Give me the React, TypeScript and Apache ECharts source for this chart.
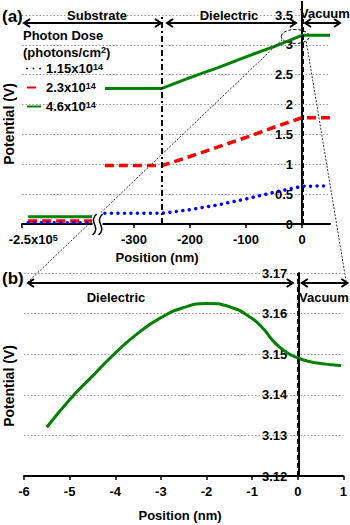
import React, { useEffect, useRef } from 'react';
import * as echarts from 'echarts';

// ---- Data (a): potential vs position (nm) ----
const topPositions = [-489, -375, -362, -352, -250, -200, -150, -100, -50, 0, 50];
const dose115 = [0.02, 0.02, null, 0.18, 0.18, 0.24, 0.32, 0.42, 0.53, 0.63, 0.64];
const dose23 = [0.05, 0.05, null, 0.98, 0.98, 1.13, 1.29, 1.45, 1.62, 1.78, 1.78];
const dose46 = [0.12, 0.12, null, 2.27, 2.27, 2.45, 2.62, 2.8, 2.97, 3.16, 3.16];
const doseNames = ['1.15x10^14', '2.3x10^14', '4.6x10^14'];
const topXRange = [-500, 50];
const topXTicks = [-500, -300, -200, -100, 0];
const topXLabels = [-480, -300, -200, -100, 0];
const farSubstrateLabel = '-2.5x10^5';
const regionBounds = [-250, 0];
const breakPosition = -365;

// ---- Data (b): zoom near the interface ----
const zoomXRange = [-6, 1];
const zoomPositions = [-5.5, -5, -4.5, -4, -3.5, -3, -2.5, -2, -1.5, -1, -0.75, -0.5, -0.25, 0, 0.25, 0.5, 0.75, 0.95];
const zoomPotential = [3.132, 3.1388, 3.1446, 3.1503, 3.1552, 3.159, 3.1615, 3.1625, 3.1617, 3.1588, 3.1562, 3.1528, 3.1505, 3.1491, 3.1482, 3.1477, 3.1474, 3.1472];

const FONT = 'Liberation Sans, Arial, sans-serif';
const sup = (s: string) => s.replace(/\^(\d+)/, '{s|$1}');
const richSup = { s: { fontSize: 9, fontWeight: 'bold', fontFamily: FONT, verticalAlign: 'top', lineHeight: 9, color: '#000' } };

const toData = (vals: (number | null)[]) => topPositions.map((x, i) => [x, vals[i] === null ? '-' : vals[i]]);

const GRID_A = { left: 22, top: 15, width: 308, height: 209 };
const GRID_B = { left: 24, top: 273, width: 320, height: 203 };
const zeroOffset = (range: number[], width: number) => -((0 - range[0]) / (range[1] - range[0])) * width;

export default function App() {
  const ref = useRef<HTMLDivElement>(null);
  useEffect(() => {
    if (!ref.current) return;
    const chart = echarts.init(ref.current, null, { renderer: 'svg' });
    const gridLine = { show: true, lineStyle: { color: '#999', type: [1.5, 2] as any, width: 1 } };
    const labelStyle = { color: '#000', fontSize: 13, fontWeight: 'bold' as const, fontFamily: FONT };
    const option: any = {
      animation: false,
      backgroundColor: '#fff',
      grid: [GRID_A, GRID_B],
      xAxis: [
        {
          type: 'value', gridIndex: 0, min: topXRange[0], max: topXRange[1],
          axisLine: { onZero: false, lineStyle: { color: '#000', width: 2 } },
          axisTick: { show: true, length: 4, customValues: topXTicks, lineStyle: { color: '#000', width: 1.5 } },
          axisLabel: {
            ...labelStyle, margin: 9, customValues: topXLabels,
            formatter: (v: number) => (v === topXLabels[0] ? sup(farSubstrateLabel) : String(v)),
            rich: richSup,
          },
          splitLine: { show: false },
        },
        {
          type: 'value', gridIndex: 1, min: zoomXRange[0], max: zoomXRange[1], interval: 1,
          axisLine: { onZero: false, lineStyle: { color: '#000', width: 2 } },
          axisTick: { show: true, length: 4, lineStyle: { color: '#000', width: 1.5 } },
          axisLabel: { ...labelStyle, margin: 9 },
          splitLine: { show: false },
        },
      ],
      yAxis: [
        {
          type: 'value', gridIndex: 0, min: 0, max: 3.5, interval: 0.5, position: 'left',
          offset: zeroOffset(topXRange, GRID_A.width),
          axisLine: { onZero: false, lineStyle: { color: '#000', width: 2 } },
          axisTick: { show: false },
          axisLabel: { ...labelStyle, margin: 9 },
          splitLine: gridLine,
        },
        {
          type: 'value', gridIndex: 1, min: 3.12, max: 3.17, interval: 0.01, position: 'left',
          offset: zeroOffset(zoomXRange, GRID_B.width),
          axisLine: { onZero: false, lineStyle: { color: '#000', width: 2 } },
          axisTick: { show: false },
          axisLabel: { ...labelStyle, margin: 11, formatter: (v: number) => v.toFixed(2) },
          splitLine: gridLine,
        },
      ],
      legend: {
        data: doseNames, orient: 'vertical', left: 26, top: 62, padding: 0,
        itemWidth: 14, itemHeight: 10, itemGap: 6,
        itemStyle: { opacity: 0 },
        formatter: (n: string) => sup(n),
        textStyle: { ...labelStyle, rich: richSup },
      },
      series: [
        {
          name: doseNames[0], type: 'line', xAxisIndex: 0, yAxisIndex: 0, symbol: 'none', z: 4,
          data: toData(dose115),
          lineStyle: { color: '#0000ff', width: 3.5, type: [0.01, 6.5], cap: 'round' },
          itemStyle: { color: '#0000ff' },
          markLine: {
            silent: true, symbol: 'none', label: { show: false },
            data: [
              { xAxis: regionBounds[0], lineStyle: { color: '#000', width: 2, type: [6, 3, 2, 3] } },
              { xAxis: regionBounds[1], lineStyle: { color: '#000', width: 3, type: [5, 3] } },
            ],
          },
        },
        {
          name: doseNames[1], type: 'line', xAxisIndex: 0, yAxisIndex: 0, symbol: 'none', z: 3,
          data: toData(dose23),
          lineStyle: { color: '#ff0000', width: 3.5, type: [9, 5] },
          itemStyle: { color: '#ff0000' },
        },
        {
          name: doseNames[2], type: 'line', xAxisIndex: 0, yAxisIndex: 0, symbol: 'none', z: 2,
          data: toData(dose46),
          lineStyle: { color: '#008000', width: 3 },
          itemStyle: { color: '#008000' },
        },
        {
          name: 'zoom', type: 'line', xAxisIndex: 1, yAxisIndex: 1, symbol: 'none', smooth: true,
          data: zoomPositions.map((x, i) => [x, zoomPotential[i]]),
          lineStyle: { color: '#008000', width: 3 },
          itemStyle: { color: '#008000' },
          markLine: {
            silent: true, symbol: 'none', label: { show: false },
            data: [{ xAxis: 0, lineStyle: { color: '#000', width: 3, type: [5, 3] } }],
          },
        },
      ],
    };
    chart.setOption(option);

    const pA = (x: number, y: number) => chart.convertToPixel({ gridIndex: 0 }, [x, y]) as number[];
    const pB = (x: number, y: number) => chart.convertToPixel({ gridIndex: 1 }, [x, y]) as number[];
    const black = { stroke: '#000', lineWidth: 2, fill: 'none' };
    const arrow = (x1: number, x2: number, y: number) => [
      { type: 'line', z: 50, shape: { x1, y1: y, x2, y2: y }, style: { ...black } },
      { type: 'polyline', z: 50, shape: { points: [[x1 + 6, y - 4], [x1, y], [x1 + 6, y + 4]] }, style: { ...black } },
      { type: 'polyline', z: 50, shape: { points: [[x2 - 6, y - 4], [x2, y], [x2 - 6, y + 4]] }, style: { ...black } },
    ];
    const txt = (text: string, x: number, y: number, align = 'center', size = 13, extra: any = {}) => ({
      type: 'text', z: 60, x, y, ...extra,
      style: { text, fill: '#000', fontSize: size, fontWeight: 'bold', fontFamily: FONT, align, verticalAlign: 'middle', rich: richSup },
    });

    const a0 = pA(topXRange[0], 3.5);
    const aB = pA(regionBounds[0], 3.5);
    const aZ = pA(regionBounds[1], 3.5);
    const aEnd = pA(topXRange[1], 0);
    const yArrA = a0[1] + 8;
    const b0 = pB(zoomXRange[0], 3.17);
    const bZ = pB(0, 3.17);
    const b1 = pB(zoomXRange[1], 3.17);
    const yArrB = b0[1] + 10;
    const ell = pA(-12, 3.14);
    const brk = pA(breakPosition, 0);

    const squiggle: any[] = [
      { type: 'rect', z: 70, shape: { x: brk[0] - 5, y: brk[1] - 11, width: 10, height: 22 }, style: { fill: '#fff' } },
    ];
    [-3, 3].forEach((o) => {
      const cx = brk[0] + o;
      squiggle.push({
        type: 'bezierCurve', z: 71,
        shape: { x1: cx + 2, y1: brk[1] - 10, x2: cx - 2, y2: brk[1] + 11, cpx1: cx - 7, cpy1: brk[1] - 2, cpx2: cx + 7, cpy2: brk[1] + 3 },
        style: { stroke: '#000', lineWidth: 1.5, fill: 'none' },
      });
    });

    const elements: any[] = [
      { type: 'line', z: 40, shape: { x1: aZ[0], y1: 1, x2: aZ[0], y2: aZ[1] }, style: { stroke: '#000', lineWidth: 2 } },
      ...arrow(a0[0] + 2, aB[0] - 1, yArrA),
      ...arrow(aB[0] + 5, aZ[0] - 6, yArrA),
      ...arrow(aZ[0] + 3, aEnd[0] + 10, yArrA),
      ...arrow(b0[0] + 4, bZ[0] - 5, yArrB),
      ...arrow(bZ[0] + 4, b1[0] + 4, yArrB),
      { type: 'ellipse', z: 45, shape: { cx: ell[0], cy: ell[1], rx: 14, ry: 7 }, style: { fill: 'none', stroke: '#000', lineWidth: 1, lineDash: [3, 2] } },
      { type: 'line', z: 45, shape: { x1: ell[0] - 13, y1: ell[1] + 3, x2: b0[0] + 4, y2: yArrB - 1 }, style: { stroke: '#000', lineWidth: 0.8, lineDash: [2, 1.5] } },
      { type: 'line', z: 45, shape: { x1: ell[0] + 11, y1: ell[1] + 5, x2: b1[0] + 3, y2: yArrB }, style: { stroke: '#000', lineWidth: 0.8, lineDash: [2, 1.5] } },
      ...squiggle,
      txt('(a)', 2, 16, 'left', 17),
      txt('(b)', 2, 278, 'left', 17),
      txt('Substrate', 97, 15),
      txt('Dielectric', 229, 15),
      txt('Vacuum', 300, 13, 'left'),
      txt('Dielectric', 116, 297),
      txt('Vacuum', 299, 297, 'left'),
      txt('Photon Dose', 23, 35, 'left'),
      txt('(photons/cm{s|2})', 23, 52, 'left'),
      txt('Potential (V)', 9, 124, 'center', 14, { rotation: Math.PI / 2 }),
      txt('Potential (V)', 9, 386, 'center', 14, { rotation: Math.PI / 2 }),
      txt('Position (nm)', 157, 257),
      txt('Position (nm)', 180, 515),
    ];
    chart.setOption({ graphic: { elements } });
    return () => chart.dispose();
  }, []);
  return <div ref={ref} style={{ width: 350, height: 525, position: 'absolute', left: 0, top: 0 }} />;
}
